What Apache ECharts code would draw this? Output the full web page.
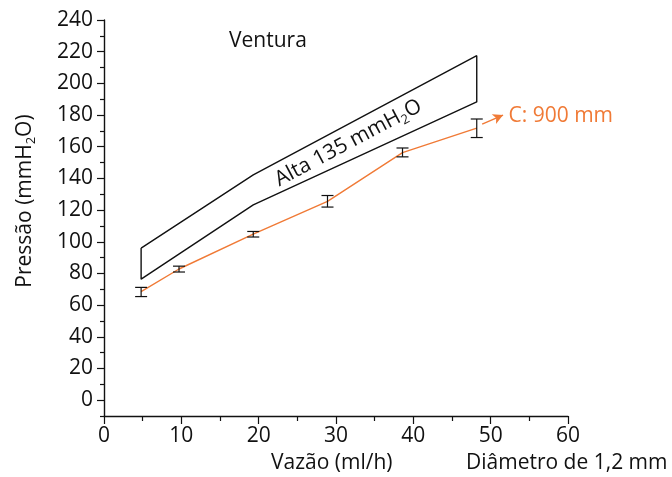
<!DOCTYPE html>
<html><head><meta charset="utf-8">
<script src="https://cdn.jsdelivr.net/npm/echarts@6/dist/echarts.min.js"></script>
<style>html,body{margin:0;padding:0;background:#fff}#c{width:672px;height:477px}</style>
</head><body><div id="c"></div>
<script>
// Data
var flowX = [4.8, 9.7, 19.3, 28.9, 38.6, 48.2];
var pressure = [68.5, 82.8, 104.8, 125.5, 156.3, 171.7];
var errLow = [65.4, 80.9, 103.0, 121.9, 153.6, 165.8];
var errHigh = [71.2, 84.6, 106.5, 129.2, 159.2, 177.5];
var bandX = [4.8, 19.3, 48.2];
var bandUpper = [96, 142.2, 217.5];
var bandLower = [76.4, 123.3, 188.3];
var arrowFrom = [48.9, 174.2];
var arrowTo = [51.6, 180];
var xTicks = [0, 10, 20, 30, 40, 50, 60];
var yTicks = [0, 20, 40, 60, 80, 100, 120, 140, 160, 180, 200, 220, 240];
var yMinorTicks = [-10, 10, 30, 50, 70, 90, 110, 130, 150, 170, 190, 210, 230];

var FONT = 'Open Sans';
var FS = 21;
var ORANGE = '#f07a36';
var INK = '#111111';

var series = [];
var bandData = [];
for (var i = 0; i < bandX.length; i++) bandData.push([bandX[i], bandUpper[i]]);
for (var j = bandX.length - 1; j >= 0; j--) bandData.push([bandX[j], bandLower[j]]);
bandData.push([bandX[0], bandUpper[0]]);
series.push({type: 'line', data: bandData, symbol: 'none', lineStyle: {color: INK, width: 1.4}, silent: true, z: 2});

var orangeData = flowX.map(function (x, k) { return [x, pressure[k]]; });
series.push({type: 'line', data: orangeData, symbol: 'none', lineStyle: {color: ORANGE, width: 1.4}, z: 3,
  markLine: {silent: true, symbol: ['none', 'arrow'], symbolSize: [8, 10], label: {show: false},
    lineStyle: {color: ORANGE, width: 1.4, type: 'solid'},
    data: [[{coord: arrowFrom}, {coord: arrowTo}]]}});

var errData = flowX.map(function (x, k) { return [x, errLow[k], errHigh[k]]; });
series.push({type: 'custom', z: 4, data: errData,
  renderItem: function (params, api) {
    var lo = api.coord([api.value(0), api.value(1)]);
    var hi = api.coord([api.value(0), api.value(2)]);
    var w = 6;
    var st = {stroke: INK, lineWidth: 1.2};
    return {type: 'group', children: [
      {type: 'line', shape: {x1: lo[0], y1: lo[1], x2: hi[0], y2: hi[1]}, style: st},
      {type: 'line', shape: {x1: lo[0] - w, y1: lo[1], x2: lo[0] + w, y2: lo[1]}, style: st},
      {type: 'line', shape: {x1: hi[0] - w, y1: hi[1], x2: hi[0] + w, y2: hi[1]}, style: st}
    ]};
  }});

// text labels anchored in data space
series.push({type: 'scatter', symbolSize: 0, silent: true, z: 5, itemStyle: {opacity: 1},
  data: [{value: [31.6, 162.4], label: {show: true, position: 'inside', rotate: 28, color: INK, textBorderWidth: 0,
    formatter: '{a|Alta 135 mmH}{s|2}{a|O}',
    rich: {a: {fontFamily: FONT, fontSize: FS, color: INK}, s: {fontFamily: FONT, fontSize: 13, color: INK, verticalAlign: 'bottom', padding: [13, 0, 0, 0]}}}},
    {value: [52.3, 179.5], label: {show: true, position: 'right', distance: 0, formatter: 'C: 900 mm',
      fontFamily: FONT, fontSize: FS, color: ORANGE, textBorderWidth: 0}}]});

var option = {
  animation: false,
  grid: {left: 104, right: 104, top: 20, bottom: 61, containLabel: false},
  xAxis: {type: 'value', min: 0, max: 60, interval: 10,
    axisLine: {onZero: false, lineStyle: {color: INK, width: 1.4}},
    axisTick: {length: 8, lineStyle: {color: INK, width: 1.2}},
    minorTick: {show: true, splitNumber: 2, length: 5, lineStyle: {color: INK, width: 1.2}},
    splitLine: {show: false},
    axisLabel: {fontFamily: FONT, fontSize: FS, color: INK, margin: 10, customValues: xTicks}},
  yAxis: [
    {type: 'value', min: -10, max: 240, interval: 10,
      axisLine: {show: true, onZero: false, lineStyle: {color: INK, width: 1.4}},
      axisTick: {length: 7, lineStyle: {color: INK, width: 1.2}, customValues: yTicks},
      splitLine: {show: false},
      axisLabel: {fontFamily: FONT, fontSize: FS, color: INK, margin: 11, customValues: yTicks}},
    {type: 'value', min: -10, max: 240, interval: 10, position: 'left',
      axisLine: {show: false},
      axisTick: {show: true, length: 4, lineStyle: {color: INK, width: 1.2}, customValues: yMinorTicks},
      splitLine: {show: false},
      axisLabel: {show: false}}
  ],
  graphic: [
    {type: 'text', left: 229, top: 31, style: {text: 'Ventura', fontFamily: FONT, fontSize: FS, fill: INK}},
    {type: 'text', left: 271, top: 453, style: {text: 'Vazão (ml/h)', fontFamily: FONT, fontSize: FS, fill: INK}},
    {type: 'text', left: 466, top: 453, style: {text: 'Diâmetro de 1,2 mm', fontFamily: FONT, fontSize: FS, fill: INK}},
    {type: 'text', x: 25, y: 201, rotation: Math.PI / 2,
      style: {text: '{a|Pressão (mmH}{s|2}{a|O)}', align: 'center', verticalAlign: 'middle',
        rich: {a: {fontFamily: FONT, fontSize: FS, fill: INK}, s: {fontFamily: FONT, fontSize: 13, fill: INK, verticalAlign: 'bottom', padding: [13, 0, 0, 0]}}}}
  ],
  series: series
};
var chart = echarts.init(document.getElementById('c'), null, {renderer: 'canvas'});
chart.setOption(option);
</script></body></html>
